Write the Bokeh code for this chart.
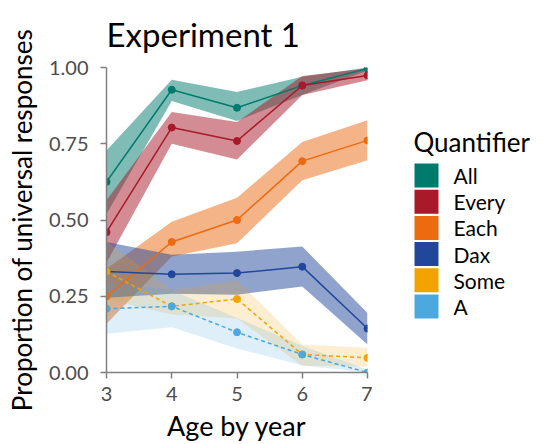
from bokeh.plotting import figure
from bokeh.layouts import row
from bokeh.models import FixedTicker, ColumnDataSource
from bokeh.core.properties import value
from bokeh.embed import file_html
from bokeh.resources import INLINE

ages = [3, 4, 5, 6, 7]
quantifiers = ["All", "Every", "Each", "Dax", "Some", "A"]
colors = ["#007A6C", "#A8192A", "#EC6A10", "#21479A", "#F2A300", "#4BA9DF"]
legend_title = "Quantifier"

all_mean = [0.625, 0.927, 0.868, 0.941, 0.997]
all_lo = [0.52, 0.89, 0.825, 0.91, 0.99]
all_hi = [0.728, 0.96, 0.92, 0.97, 1.0]

every_mean = [0.46, 0.803, 0.759, 0.941, 0.974]
every_lo = [0.36, 0.75, 0.698, 0.91, 0.958]
every_hi = [0.565, 0.854, 0.821, 0.972, 0.997]

each_mean = [0.25, 0.428, 0.50, 0.693, 0.761]
each_lo = [0.16, 0.38, 0.424, 0.63, 0.696]
each_hi = [0.34, 0.494, 0.573, 0.756, 0.827]

dax_mean = [0.331, 0.322, 0.326, 0.347, 0.144]
dax_lo = [0.245, 0.258, 0.255, 0.282, 0.092]
dax_hi = [0.428, 0.386, 0.396, 0.413, 0.195]

some_mean = [0.331, 0.217, 0.241, 0.059, 0.048]
some_lo = [0.24, 0.19, 0.177, 0.022, 0.02]
some_hi = [0.43, 0.27, 0.302, 0.092, 0.081]

a_mean = [0.209, 0.217, 0.132, 0.059, 0.0]
a_lo = [0.127, 0.148, 0.079, 0.023, 0.0]
a_hi = [0.296, 0.27, 0.179, 0.088, 0.01]

means = [all_mean, every_mean, each_mean, dax_mean, some_mean, a_mean]
los = [all_lo, every_lo, each_lo, dax_lo, some_lo, a_lo]
his = [all_hi, every_hi, each_hi, dax_hi, some_hi, a_hi]
band_alpha = [0.5, 0.5, 0.5, 0.5, 0.18, 0.18]
dashes = ["solid", "solid", "solid", "solid", "4 3", "4 3"]

yticks = [0, 0.25, 0.5, 0.75, 1.0]
ytick_labels = ["0.00", "0.25", "0.50", "0.75", "1.00"]

FONT = "Lato"
GREY = "#7F7F7F"
H = 444
FRAME_TOP, FRAME_BOTTOM = 67, 372

p = figure(width=372, height=H, x_range=(3, 7), y_range=(0, 1),
           output_backend="svg", toolbar_location=None,
           min_border_left=106, min_border_right=5,
           min_border_top=FRAME_TOP, min_border_bottom=H - FRAME_BOTTOM,
           title="Experiment 1")
p.outline_line_color = None
p.grid.visible = False
p.background_fill_color = "white"

p.title.text_font = FONT
p.title.text_font_size = "33px"
p.title.text_font_style = "normal"
p.title.text_color = "black"
p.title.standoff = 24
p.title.vertical_align = "top"

for ax in (p.xaxis[0], p.yaxis[0]):
    ax.axis_line_color = GREY
    ax.axis_line_width = 1.5
    ax.major_tick_line_color = GREY
    ax.major_tick_line_width = 1.5
    ax.major_tick_out = 6
    ax.major_tick_in = 0
    ax.minor_tick_line_color = None
    ax.major_label_text_font = FONT
    ax.major_label_text_font_size = "20px"
    ax.major_label_text_color = "#4D4D4D"
    ax.axis_label_text_font = FONT
    ax.axis_label_text_font_style = "normal"
    ax.axis_label_text_color = "black"

p.xaxis.ticker = FixedTicker(ticks=ages)
p.xaxis.major_label_standoff = 8
p.xaxis.axis_label = "Age by year"
p.xaxis.axis_label_text_font_size = "27px"
p.xaxis.axis_label_standoff = 5

p.yaxis.ticker = FixedTicker(ticks=yticks)
p.yaxis.major_label_overrides = {t: l for t, l in zip(yticks, ytick_labels)}
p.yaxis.major_label_standoff = 12
p.yaxis.axis_label = "Proportion of universal responses"
p.yaxis.axis_label_text_font_size = "26px"
p.yaxis.axis_label_standoff = 8

sources = []
for q, m, lo, hi in zip(quantifiers, means, los, his):
    sources.append(ColumnDataSource(dict(x=ages, y=m, lo=lo, hi=hi)))

for src, c, a in zip(sources, colors, band_alpha):
    p.varea(x="x", y1="lo", y2="hi", source=src, fill_color=c, fill_alpha=a)

for src, c, d in zip(sources, colors, dashes):
    p.line(x="x", y="y", source=src, line_color=c, line_width=1.5, line_dash=d)
    p.scatter(x="x", y="y", source=src, size=7, fill_color=c, line_color=c)

# legend panel: its frame is aligned with the main frame in the row,
# so use page-pixel coordinates (y downward) over that frame
LW = 544 - 372
lg = figure(width=LW, height=H, x_range=(0, LW), y_range=(FRAME_BOTTOM, FRAME_TOP),
            output_backend="svg", toolbar_location=None,
            min_border_left=0, min_border_right=0,
            min_border_top=FRAME_TOP, min_border_bottom=H - FRAME_BOTTOM)
lg.axis.visible = False
lg.grid.visible = False
lg.outline_line_color = None

first_top, pitch, box = 163, 26.2, 24
sw_left, label_x = 42, 81
tops = [first_top + pitch * i for i in range(len(quantifiers))]
leg = ColumnDataSource(dict(
    top=tops,
    bottom=[t + box for t in tops],
    mid=[t + box / 2 for t in tops],
    left=[sw_left] * len(quantifiers),
    right=[sw_left + box] * len(quantifiers),
    lx=[label_x] * len(quantifiers),
    color=colors,
    label=quantifiers,
))
lg.quad(left="left", right="right", top="top", bottom="bottom", source=leg,
        fill_color="color", line_color=None)
lg.text(x="lx", y="mid", text="label", source=leg,
        text_font=value(FONT), text_font_size="21px", text_color="black",
        text_baseline="middle", text_align="left")
lg.text(x=[41], y=[141], text=[legend_title],
        text_font=value(FONT), text_font_size="26px", text_color="black",
        text_baseline="alphabetic", text_align="left")

layout = row(p, lg, spacing=0)
open("out.html", "w").write(file_html(layout, INLINE))
